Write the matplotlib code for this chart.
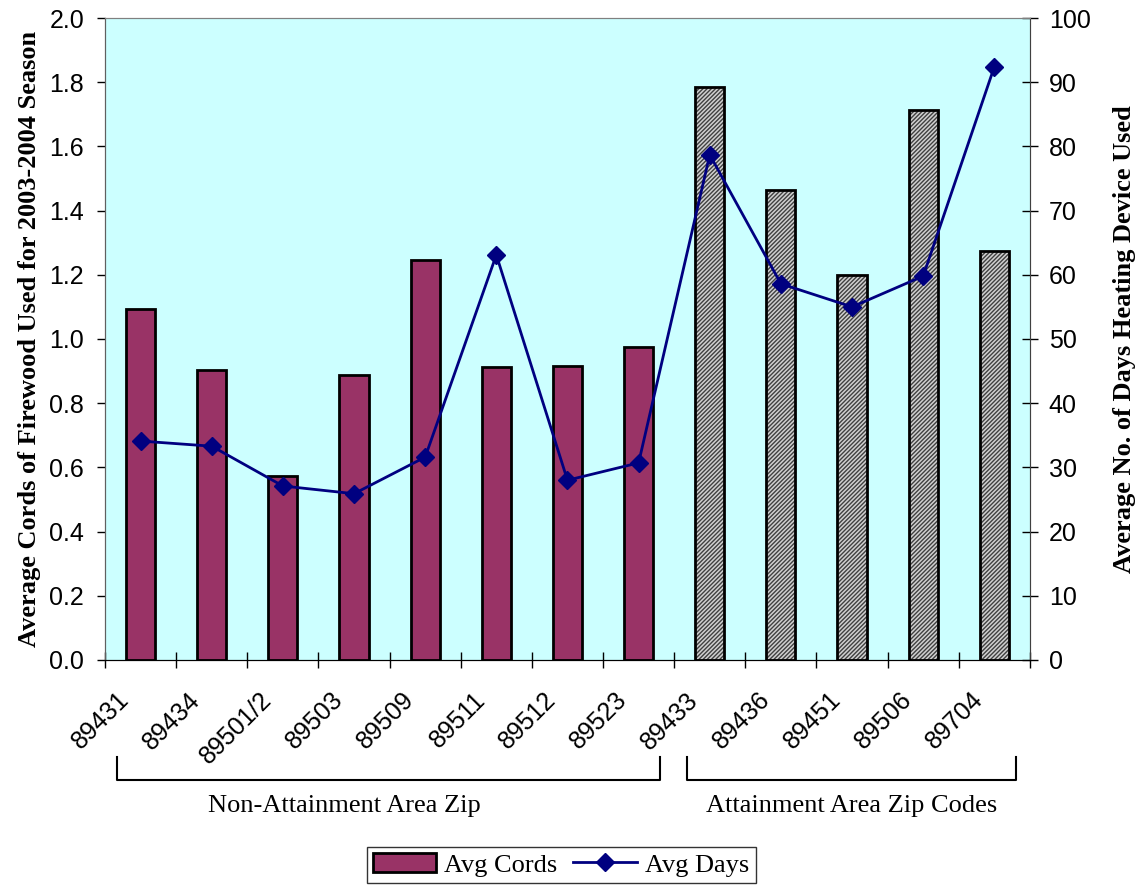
import numpy as np
import matplotlib.pyplot as plt
import matplotlib.transforms as mtransforms
from matplotlib.patches import Patch
from matplotlib.lines import Line2D

zips = ['89431', '89434', '89501/2', '89503', '89509', '89511', '89512', '89523',
        '89433', '89436', '89451', '89506', '89704']
avg_cords = [1.093, 0.903, 0.573, 0.888, 1.246, 0.913, 0.916, 0.975,
             1.785, 1.464, 1.199, 1.713, 1.274]
avg_days = [34.1, 33.3, 27.1, 25.9, 31.6, 63.1, 28.0, 30.7,
            78.7, 58.6, 55.0, 59.8, 92.4]
n_nonattain = 8
groups = ['Non-Attainment Area Zip', 'Attainment Area Zip Codes']

serif = ['Liberation Serif', 'DejaVu Serif']
sans = ['Liberation Sans', 'DejaVu Sans']

fig = plt.figure(figsize=(11.38, 8.88), dpi=100)
ax = fig.add_axes([0.0923, 0.2568, 0.8127, 0.7229])
ax.set_facecolor('#CCFFFF')

x = np.arange(len(zips))
w = 0.41
# maroon bars for non-attainment zips
ax.bar(x[:n_nonattain], avg_cords[:n_nonattain], width=w, color='#993366',
       edgecolor='black', linewidth=2, zorder=2)
# hatched gray bars for attainment zips
ax.bar(x[n_nonattain:], avg_cords[n_nonattain:], width=w, color='#d0d0d0',
       edgecolor='#404040', hatch='////////', linewidth=0, zorder=2)
ax.bar(x[n_nonattain:], avg_cords[n_nonattain:], width=w, fill=False,
       edgecolor='black', linewidth=2, zorder=3)

ax.set_xlim(-0.5, len(zips) - 0.5)
ax.set_ylim(0, 2.0)
ax.set_yticks(np.arange(0, 2.01, 0.2))
ax.set_yticklabels([f'{v:.1f}' for v in np.arange(0, 2.01, 0.2)],
                   family=sans, fontsize=18)
ax.set_xticks(np.arange(-0.5, len(zips), 1.0))
ax.set_xticklabels([])
ax.set_xticks(x - 0.33, minor=True)
ax.set_xticklabels(zips, minor=True, rotation=45, ha='right',
                   rotation_mode='anchor', family=sans, fontsize=18)
ax.tick_params(axis='x', which='major', length=11, width=1, direction='inout')
ax.tick_params(axis='x', which='minor', length=0, pad=20)
ax.tick_params(axis='y', length=6, width=1, direction='out', pad=9)
ax.set_ylabel('Average Cords of Firewood Used for 2003-2004 Season',
              family=serif, fontsize=19, fontweight='bold', labelpad=6)
for s in ['top', 'right']:
    ax.spines[s].set_color('#808080')
ax.spines['left'].set_color('#606060')

ax2 = ax.twinx()
ax2.plot(x, avg_days, color='#000080', linewidth=2, marker='D', markersize=9,
         zorder=4)
ax2.set_ylim(0, 100)
ax2.set_yticks(np.arange(0, 101, 10))
ax2.set_yticklabels([str(v) for v in range(0, 101, 10)], family=sans, fontsize=18)
ax2.tick_params(axis='y', length=11, width=1, direction='inout', pad=8)
ax2.set_ylabel('Average No. of Days Heating Device Used', family=serif,
               fontsize=19, fontweight='bold', labelpad=16)
ax2.spines['right'].set_color('#404040')
ax2.spines['top'].set_color('#808080')
ax2.spines['left'].set_color('#606060')

# group brackets under the tick labels
trans = mtransforms.blended_transform_factory(ax.transData, ax.transAxes)
brackets = [(-0.33, 7.30), (7.68, 12.30)]
label_x = [2.87, 10.0]
for (x0, x1), lx, name in zip(brackets, label_x, groups):
    ax.plot([x0, x0, x1, x1], [-0.151, -0.187, -0.187, -0.151], color='black',
            linewidth=1.5, transform=trans, clip_on=False)
    ax.text(lx, -0.228, name, transform=trans, ha='center',
            va='center', family=serif, fontsize=19)

handles = [Patch(facecolor='#993366', edgecolor='black', linewidth=2),
           Line2D([], [], color='#000080', linewidth=2, marker='D', markersize=9)]
leg = fig.legend(handles, ['Avg Cords', 'Avg Days'], loc='center',
                 bbox_to_anchor=(0.493, 0.026), ncol=2, frameon=True,
                 fancybox=False, edgecolor='black', prop={'family': serif, 'size': 19},
                 handlelength=2.4, columnspacing=0.6, handletextpad=0.3,
                 borderpad=0.25)
leg.get_frame().set_linewidth(1)

fig.savefig('out.png', dpi=100)
